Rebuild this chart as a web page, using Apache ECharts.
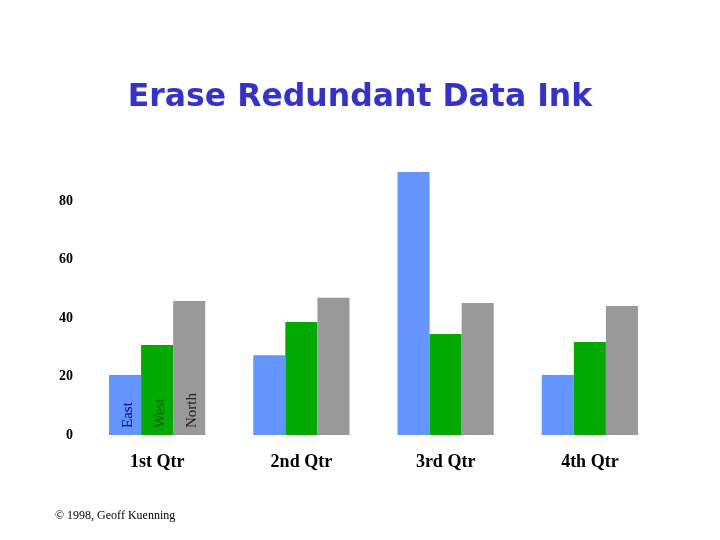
<!DOCTYPE html>
<html>
<head>
<meta charset="utf-8">
<script src="https://cdn.jsdelivr.net/npm/echarts@6/dist/echarts.min.js"></script>
<style>html,body{margin:0;padding:0;background:#fff}#c{width:720px;height:540px}</style>
</head>
<body>
<div id="c"></div>
<script>
var categories = ['1st Qtr', '2nd Qtr', '3rd Qtr', '4th Qtr'];
var seriesNames = ['East', 'West', 'North'];
var eastValues = [20.5, 27.3, 89.9, 20.5];
var westValues = [30.8, 38.6, 34.5, 31.8];
var northValues = [45.8, 46.9, 45.1, 44.1];
var yTicks = [0, 20, 40, 60, 80];

var colors = ['#6495fe', '#00aa00', '#999999'];
var labelColors = ['#000080', '#005500', '#222222'];
var allValues = [eastValues, westValues, northValues];

var chart = echarts.init(document.getElementById('c'));
var series = seriesNames.map(function (name, i) {
  return {
    name: name,
    type: 'bar',
    barGap: '0%',
    barCategoryGap: '33.3%',
    itemStyle: { color: colors[i] },
    data: allValues[i].map(function (v, j) {
      if (j === 0) {
        return {
          value: v,
          label: {
            show: true,
            formatter: name,
            position: 'insideBottom',
            rotate: 90,
            align: 'left',
            verticalAlign: 'middle',
            distance: 7,
            offset: [0, 3],
            color: labelColors[i],
            fontFamily: 'Liberation Serif',
            fontSize: 15
          }
        };
      }
      return v;
    })
  };
});

chart.setOption({
  backgroundColor: '#ffffff',
  animation: false,
  title: [{
    text: 'Erase Redundant Data Ink',
    left: 'center',
    top: 77,
    textStyle: { color: '#3333cc', fontFamily: 'DejaVu Sans', fontWeight: 'bold', fontSize: 31.5 }
  }, {
    text: '\u00a9 1998, Geoff Kuenning',
    left: 50,
    top: 505,
    textStyle: { color: '#000', fontFamily: 'Liberation Serif', fontWeight: 'normal', fontSize: 12 }
  }],
  grid: { left: 85, right: 58, top: 171.75, bottom: 105, containLabel: false },
  xAxis: {
    type: 'category',
    data: categories,
    axisLine: { show: false },
    axisTick: { show: false },
    axisLabel: { color: '#000', fontFamily: 'Liberation Serif', fontWeight: 'bold', fontSize: 18, margin: 18 }
  },
  yAxis: {
    type: 'value',
    min: 0,
    max: 90,
    interval: 20,
    splitLine: { show: false },
    axisLine: { show: false },
    axisTick: { show: false },
    axisLabel: {
      color: '#000', fontFamily: 'Liberation Serif', fontWeight: 'bold', fontSize: 14, margin: 12,
      formatter: function (v) { return yTicks.indexOf(v) >= 0 ? String(v) : ''; }
    }
  },
  series: series
});
</script>
</body>
</html>
